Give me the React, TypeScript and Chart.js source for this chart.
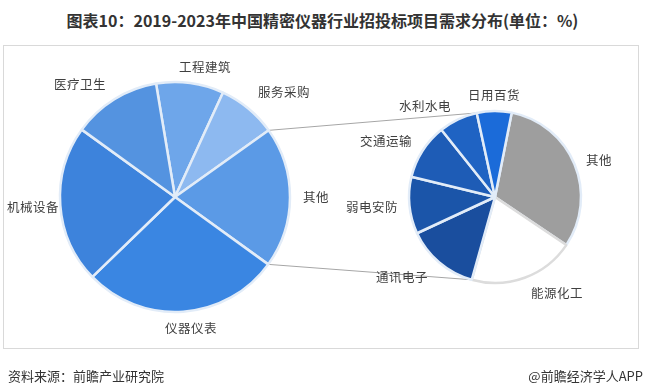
import React, { useEffect, useRef } from 'react';
import { Chart, registerables } from 'chart.js';

Chart.register(...registerables);

// ---- data ----
const mainLabels = ['工程建筑', '服务采购', '其他', '仪器仪表', '机械设备', '医疗卫生'];
const mainValues = [9.5, 8.3, 19.8, 27.8, 22.2, 12.4];
const subLabels = ['其他', '能源化工', '通讯电子', '弱电安防', '交通运输', '水利水电', '日用百货'];
const subValues = [31.3, 19.9, 13.7, 10.7, 10.5, 7.3, 6.5];

const titleText = '图表10：2019-2023年中国精密仪器行业招投标项目需求分布(单位：%)';
const sourceText = '资料来源：前瞻产业研究院';
const brandText = '@前瞻经济学人APP';

// ---- styles ----
const mainColors = ['#6ea6ea', '#8db9f0', '#5b9ae6', '#3a86e2', '#3d83dc', '#5493e0'];
const subColors = ['#9e9e9e', '#ffffff', '#1a4e9e', '#1b55a9', '#1e5cb6', '#1f63c3', '#1b6bd9'];
const subBorders = ['#e2ecf8', '#dcdcdc', '#e2ecf8', '#e2ecf8', '#e2ecf8', '#e2ecf8', '#e2ecf8'];

const mainLabelPos: [number, number][] = [[205, 67], [284, 92], [316, 197], [191, 328], [33, 207], [80, 84]];
const subLabelPos: [number, number][] = [[599, 160], [557, 293], [402, 277], [372, 207], [386, 141], [425, 106], [494, 95]];

const FONT = '"Noto Sans CJK SC", "Noto Sans", sans-serif';

const MAIN_BOX = { left: 50, top: 72, size: 250, radius: 115 };
const SUB_BOX = { left: 395, top: 97, size: 200, radius: 86 };

export default function App() {
  const mainRef = useRef<HTMLCanvasElement>(null);
  const subRef = useRef<HTMLCanvasElement>(null);
  const lineRef = useRef<HTMLCanvasElement>(null);

  useEffect(() => {
    const mainChart = new Chart(mainRef.current!, {
      type: 'pie',
      data: {
        labels: mainLabels,
        datasets: [{
          data: mainValues,
          backgroundColor: mainColors,
          borderColor: '#e2ecf8',
          borderWidth: 2.5,
        }],
      },
      options: {
        responsive: false,
        animation: false,
        rotation: -9.5,
        radius: MAIN_BOX.radius,
        layout: { padding: 0 },
        plugins: { legend: { display: false }, tooltip: { enabled: false }, title: { display: false } },
      },
    });

    const subChart = new Chart(subRef.current!, {
      type: 'pie',
      data: {
        labels: subLabels,
        datasets: [{
          data: subValues,
          backgroundColor: subColors,
          borderColor: subBorders,
          borderWidth: 2.5,
        }],
      },
      options: {
        responsive: false,
        animation: false,
        rotation: 11.2,
        radius: SUB_BOX.radius,
        layout: { padding: 0 },
        plugins: { legend: { display: false }, tooltip: { enabled: false }, title: { display: false } },
      },
    });

    // connector lines derived from the arcs' geometry
    const lc = lineRef.current!;
    const ctx = lc.getContext('2d')!;
    ctx.clearRect(0, 0, lc.width, lc.height);
    const mArc: any = mainChart.getDatasetMeta(0).data[2];
    const mp = mArc.getProps(['x', 'y', 'startAngle', 'endAngle', 'outerRadius'], true);
    const topArc: any = subChart.getDatasetMeta(0).data[subValues.length - 1];
    const tp = topArc.getProps(['x', 'y', 'startAngle', 'endAngle', 'outerRadius'], true);
    const botArc: any = subChart.getDatasetMeta(0).data[1];
    const bp = botArc.getProps(['x', 'y', 'startAngle', 'endAngle', 'outerRadius'], true);

    const pt = (p: any, a: number, box: any) => [box.left + p.x + p.outerRadius * Math.cos(a), box.top + p.y + p.outerRadius * Math.sin(a)];
    const m1 = pt(mp, mp.startAngle, MAIN_BOX);
    const m2 = pt(mp, mp.endAngle, MAIN_BOX);
    const s1 = pt(tp, tp.startAngle, SUB_BOX);
    const s2 = pt(bp, bp.endAngle, SUB_BOX);
    ctx.strokeStyle = '#a6a6a6';
    ctx.lineWidth = 1;
    ctx.beginPath();
    ctx.moveTo(m1[0], m1[1]);
    ctx.lineTo(s1[0], s1[1]);
    ctx.moveTo(m2[0], m2[1]);
    ctx.lineTo(s2[0], s2[1]);
    ctx.stroke();

    return () => {
      mainChart.destroy();
      subChart.destroy();
    };
  }, []);

  const labelStyle = (x: number, y: number): React.CSSProperties => ({
    position: 'absolute',
    left: x,
    top: y,
    transform: 'translate(-50%, -50%)',
    fontFamily: FONT,
    fontSize: 12.5,
    color: '#404040',
    whiteSpace: 'nowrap',
    lineHeight: 1,
    letterSpacing: 0.5,
  });

  return (
    <div style={{ position: 'absolute', left: 0, top: 0, width: 645, height: 392, background: '#ffffff', overflow: 'hidden' }}>
      <div style={{ position: 'absolute', left: 0, top: 8, width: 645, textAlign: 'center', fontFamily: FONT, fontWeight: 700, fontSize: 16, color: '#333333', lineHeight: '24px', whiteSpace: 'nowrap' }}>
        {titleText}
      </div>
      <div style={{ position: 'absolute', left: 3, top: 45, width: 636, height: 304, border: '1px solid #d9d9d9', boxSizing: 'border-box' }} />
      <canvas ref={lineRef} width={645} height={392} style={{ position: 'absolute', left: 0, top: 0 }} />
      <canvas ref={mainRef} width={MAIN_BOX.size} height={MAIN_BOX.size} style={{ position: 'absolute', left: MAIN_BOX.left, top: MAIN_BOX.top, width: MAIN_BOX.size, height: MAIN_BOX.size }} />
      <canvas ref={subRef} width={SUB_BOX.size} height={SUB_BOX.size} style={{ position: 'absolute', left: SUB_BOX.left, top: SUB_BOX.top, width: SUB_BOX.size, height: SUB_BOX.size }} />
      {mainLabels.map((l, i) => (
        <div key={'m' + i} style={labelStyle(mainLabelPos[i][0], mainLabelPos[i][1])}>{l}</div>
      ))}
      {subLabels.map((l, i) => (
        <div key={'s' + i} style={labelStyle(subLabelPos[i][0], subLabelPos[i][1])}>{l}</div>
      ))}
      <div style={{ position: 'absolute', left: 8, top: 368, fontFamily: FONT, fontSize: 13, color: '#333333', lineHeight: '16px', whiteSpace: 'nowrap' }}>{sourceText}</div>
      <div style={{ position: 'absolute', right: 2, top: 368, fontFamily: FONT, fontSize: 13, color: '#333333', lineHeight: '16px', whiteSpace: 'nowrap' }}>{brandText}</div>
    </div>
  );
}
